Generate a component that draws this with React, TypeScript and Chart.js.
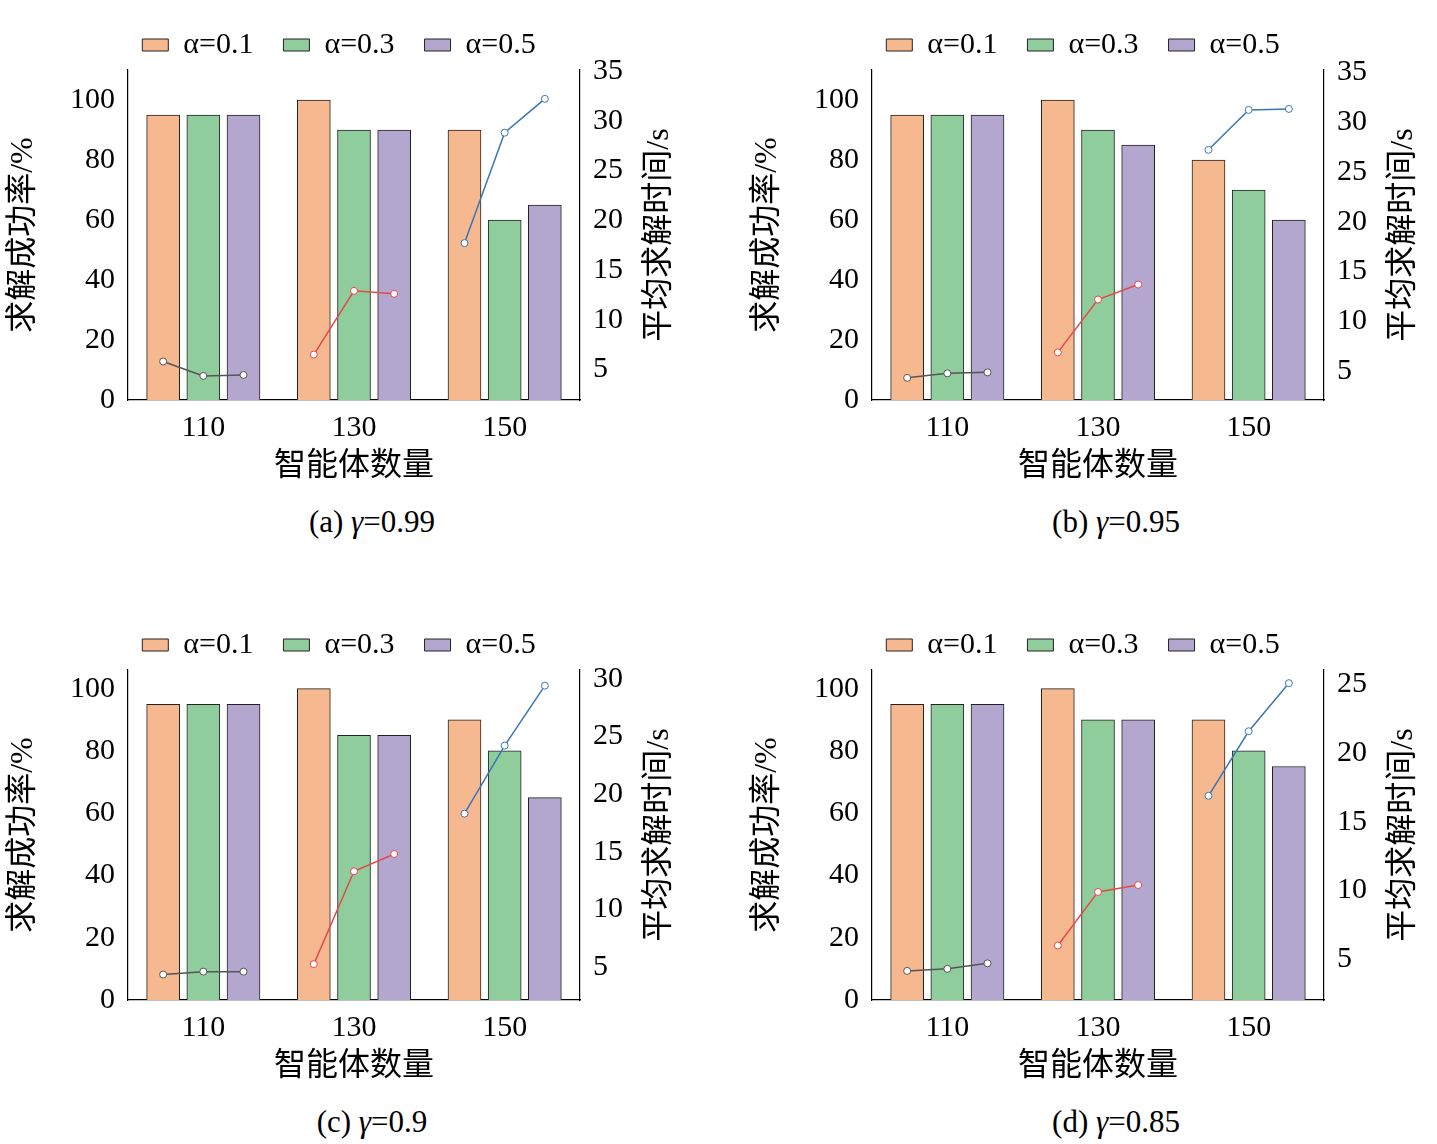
import React, { useEffect, useRef } from "react";
import { Chart, registerables } from "chart.js";
Chart.register(...registerables);

const categories = ["110", "130", "150"];
const seriesLabels = ["α=0.1", "α=0.3", "α=0.5"];
const captions = ["γ=0.99", "γ=0.95", "γ=0.9", "γ=0.85"];
const captionPrefix = ["(a) ", "(b) ", "(c) ", "(d) "];

// success rate (%) [panel][alpha][category]
const barsA = [[95, 100, 90], [95, 90, 60], [95, 90, 65]];
const barsB = [[95, 100, 80], [95, 90, 70], [95, 85, 60]];
const barsC = [[95, 100, 90], [95, 85, 80], [95, 85, 65]];
const barsD = [[95, 100, 90], [95, 90, 80], [95, 90, 75]];
// average solve time (s) [category][alpha]
const timeA = [[5.8, 4.35, 4.45], [6.5, 12.9, 12.6], [17.7, 28.8, 32.2]];
const timeB = [[4.35, 4.8, 4.9], [6.9, 12.2, 13.7], [27.2, 31.2, 31.3]];
const timeC = [[4.35, 4.6, 4.6], [5.25, 13.3, 14.8], [18.3, 24.2, 29.4]];
const timeD = [[4.15, 4.3, 4.7], [6.0, 9.9, 10.4], [16.9, 21.6, 25.1]];
const rightTicks = [[5, 10, 15, 20, 25, 30, 35], [5, 10, 15, 20, 25, 30, 35], [5, 10, 15, 20, 25, 30], [5, 10, 15, 20, 25]];
const rightRange = [[1.93, 35.1], [2.13, 35.2], [2.14, 30.76], [2.03, 26.06]];
const leftMax = [110, 110, 106, 106];
const leftTicks = [0, 20, 40, 60, 80, 100];

const barColors = ["#F6B98F", "#8FCE9C", "#B3A7CF"];
const lineColors = ["#555555", "#E5484B", "#3B75B3"];
const FONT = "'Liberation Serif', 'Noto Sans CJK SC', serif";
const CAT_PCT = 0.8;

const rightTitlePlugin = {
  id: "rightTitle",
  afterDraw(chart: any) {
    const s = chart.scales.y2;
    const ctx = chart.ctx;
    ctx.save();
    ctx.translate(s.right - 18, (chart.chartArea.top + chart.chartArea.bottom) / 2);
    ctx.rotate(-Math.PI / 2);
    ctx.font = `32px ${FONT}`;
    ctx.fillStyle = "#000";
    ctx.textAlign = "center";
    ctx.textBaseline = "middle";
    ctx.fillText("平均求解时间/s", 0, 0);
    ctx.restore();
  },
};

function Panel({ idx }: { idx: number }) {
  const ref = useRef<HTMLCanvasElement>(null);
  useEffect(() => {
    const bars = [barsA, barsB, barsC, barsD][idx];
    const times = [timeA, timeB, timeC, timeD][idx];
    const datasets: any[] = bars.map((d, k) => ({
      type: "bar",
      label: seriesLabels[k],
      data: d.map((v, i) => ({ x: i + (k - 1) * CAT_PCT / 3, y: v })),
      backgroundColor: barColors[k],
      borderColor: "#222",
      borderWidth: 1,
      barThickness: 33,
      grouped: false,
      yAxisID: "y",
      order: 2,
    }));
    times.forEach((t, i) => {
      datasets.push({
        type: "line",
        label: "t" + i,
        data: t.map((v, k) => ({ x: i + (k - 1) * CAT_PCT / 3, y: v })),
        borderColor: lineColors[i],
        backgroundColor: "#fff",
        borderWidth: 1.5,
        pointRadius: 3.5,
        pointBorderWidth: 1,
        yAxisID: "y2",
        order: 1,
      });
    });
    const chart = new Chart(ref.current!, {
      type: "bar",
      data: { datasets },
      plugins: [rightTitlePlugin],
      options: {
        animation: false,
        responsive: false,
        layout: { padding: { left: 0, right: 66, top: 0, bottom: 0 } },
        plugins: {
          tooltip: { enabled: false },
          legend: {
            labels: {
              filter: (it: any) => it.datasetIndex < 3,
              font: { family: FONT, size: 30 },
              color: "#000",
              boxWidth: 26,
              boxHeight: 12,
              padding: 30,
            },
          },
        },
        scales: {
          x: {
            type: "linear",
            min: -0.5,
            max: 2.5,
            offset: false,
            afterBuildTicks: (s: any) => { s.ticks = [0, 1, 2].map((v) => ({ value: v })); },
            grid: { display: false, drawTicks: false },
            border: { color: "#000", width: 1.2 },
            ticks: {
              font: { family: FONT, size: 30 },
              color: "#000",
              padding: 10,
              callback: (v: any) => categories[Math.round(v)] ?? "",
            },
            title: { display: true, text: "智能体数量", font: { family: FONT, size: 32 }, color: "#000" },
            afterFit: (s: any) => { s.height = 90; },
          },
          y: {
            position: "left",
            min: 0,
            max: leftMax[idx],
            afterBuildTicks: (s: any) => { s.ticks = leftTicks.map((v) => ({ value: v })); },
            grid: { display: false, drawOnChartArea: false, drawTicks: true, tickLength: 7, color: "#000" },
            border: { color: "#000", width: 1.2 },
            ticks: { font: { family: FONT, size: 30 }, color: "#000", padding: 6 },
            title: { display: true, text: "求解成功率/%", font: { family: FONT, size: 32 }, color: "#000" },
            afterFit: (s: any) => { s.width = 128; },
          },
          y2: {
            position: "right",
            min: rightRange[idx][0],
            max: rightRange[idx][1],
            afterBuildTicks: (s: any) => { s.ticks = rightTicks[idx].map((v) => ({ value: v })); },
            grid: { display: false, drawOnChartArea: false, drawTicks: true, tickLength: 7, color: "#000" },
            border: { color: "#000", width: 1.2 },
            ticks: { font: { family: FONT, size: 30 }, color: "#000", padding: 6 },
            title: { display: false },
            afterFit: (s: any) => { s.width = 98; },
          },
        },
      } as any,
    });
    return () => chart.destroy();
  }, [idx]);
  const col = idx % 2;
  const row = Math.floor(idx / 2);
  const top = row * 600;
  return (
    <div style={{ position: "absolute", left: col * 744, top, width: 744 }}>
      <canvas ref={ref} width={744} height={490} style={{ display: "block" }} />
      <div style={{ fontFamily: FONT, fontSize: 31, textAlign: "center", width: 744, marginTop: 14, color: "#000" }}>
        {captionPrefix[idx]}
        <i>{captions[idx].slice(0, 1)}</i>
        {captions[idx].slice(1)}
      </div>
    </div>
  );
}

export default function App() {
  return (
    <div style={{ position: "absolute", left: 0, top: 0, width: 1437, height: 1144, background: "#fff" }}>
      {[0, 1, 2, 3].map((i) => <Panel key={i} idx={i} />)}
    </div>
  );
}
